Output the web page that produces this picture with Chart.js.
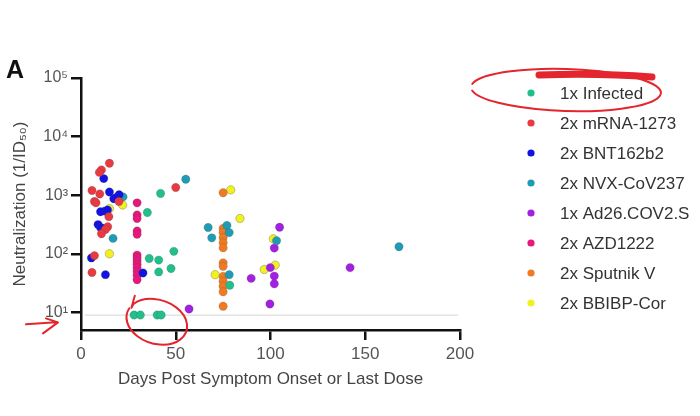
<!DOCTYPE html>
<html>
<head>
<meta charset="utf-8">
<script src="https://cdn.jsdelivr.net/npm/chart.js@4.4.1/dist/chart.umd.min.js"></script>
<style>
  html, body { margin: 0; padding: 0; background: #fff; }
  #wrap { width: 700px; height: 416px; }
</style>
</head>
<body>
<div id="wrap"><canvas id="chart" width="700" height="416"></canvas></div>
<script>
// groups, in legend order
const groupLabels = ['1x Infected', '2x mRNA-1273', '2x BNT162b2', '2x NVX-CoV237',
                     '1x Ad26.COV2.S', '2x AZD1222', '2x Sputnik V', '2x BBIBP-Cor'];
const groupColors = ['#22bf8c', '#e83a40', '#1212e2', '#1f9cb4',
                     '#a31fe2', '#e8177c', '#f07a22', '#f2f020'];

// days post onset / last dose, and neutralization titer (1/ID50)
const infectedDays   = [42, 35, 49, 36, 41, 41, 47.5, 28, 31.3, 40.2, 42.3, 78.5];
const infectedTiters = [1070, 505, 110, 83, 78, 49, 56, 9, 9, 9, 9, 29];

const mrnaDays   = [15, 10.8, 9.7, 5.8, 9.9, 7.1, 7.9, 20, 14.7, 14.1, 12.9, 10.8, 7.1, 5.8, 50];
const mrnaTiters = [3500, 2700, 2450, 1200, 1050, 780, 740, 780, 430, 290, 260, 220, 93, 48, 1350];

const bntDays   = [12, 15, 17.3, 20.1, 18.5, 12.5, 10.3, 14, 9, 10.3, 12, 5.5, 12.9, 32.7];
const bntTiters = [1920, 1135, 870, 1020, 910, 535, 520, 560, 315, 280, 270, 85, 44, 47];

const nvxDays   = [22.2, 16.9, 55.3, 67.1, 69, 77, 78.2, 78.2, 103.2, 167.8];
const nvxTiters = [935, 183, 1870, 280, 187, 305, 230, 44, 167, 132];

const adDays   = [57, 99.7, 104.8, 102, 99.9, 102, 102, 89.8, 142];
const adTiters = [11.4, 13.9, 283, 125, 58, 41.6, 30.7, 38, 58];

const azdDays   = [29.6, 29.6, 29.6, 29.6, 29.6, 29.6, 29.6, 29.6, 29.6, 29.6, 29.6, 29.6, 29.6];
const azdTiters = [740, 460, 400, 245, 215, 95, 85, 75, 66, 58, 50, 43, 36];

const sputnikDays   = [75, 75, 75, 75, 75, 75, 75, 75, 75, 75, 75, 75, 75];
const sputnikTiters = [1100, 270, 230, 188, 154, 126, 70, 61, 41, 34, 28, 22.4, 12.7];

const bbibpDays   = [22, 15, 15, 79, 83.9, 70.8, 101.5, 96.7, 102.5];
const bbibpTiters = [680, 590, 100, 1230, 400, 44, 180, 54, 64];

// limit of detection line
const lodDays = [2, 199];
const lodTiter = 9;

const xTickValues = [0, 50, 100, 150, 200];
const yTickValues = [10, 100, 1000, 10000, 100000];

const groupDays   = [infectedDays, mrnaDays, bntDays, nvxDays, adDays, azdDays, sputnikDays, bbibpDays];
const groupTiters = [infectedTiters, mrnaTiters, bntTiters, nvxTiters, adTiters, azdTiters, sputnikTiters, bbibpTiters];

const FONT = "'Liberation Sans', Arial, sans-serif";
const SUP = { '0': '⁰', '1': '¹', '2': '²', '3': '³', '4': '⁴', '5': '⁵', '6': '⁶', '7': '⁷', '8': '⁸', '9': '⁹' };

function powerLabel(v) {
    const e = Math.round(Math.log10(v));
    return '10' + String(e).split('').map(d => SUP[d]).join('');
}

const datasets = groupLabels.map((label, i) => ({
    type: 'scatter',
    label: label,
    data: groupDays[i].map((d, j) => ({ x: d, y: groupTiters[i][j] })),
    backgroundColor: groupColors[i],
    borderColor: i === 7 ? 'rgba(120,120,80,0.55)' : 'rgba(70,70,70,0.25)',
    borderWidth: 0.8,
    pointRadius: 4.2,
    pointHoverRadius: 4.2,
    order: 1
}));

datasets.push({
    type: 'line',
    label: 'LOD',
    data: lodDays.map(d => ({ x: d, y: lodTiter })),
    borderColor: '#dddddd',
    borderWidth: 1.2,
    pointRadius: 0,
    order: 99
});

// legend + panel letter, drawn on the canvas
const sideLegend = {
    id: 'sideLegend',
    afterDraw(chart) {
        const ctx = chart.ctx;
        ctx.save();
        ctx.fillStyle = '#111';
        ctx.font = 'bold 25px ' + FONT;
        ctx.textBaseline = 'alphabetic';
        ctx.fillText('A', 6, 78);

        ctx.font = '17px ' + FONT;
        ctx.textBaseline = 'middle';
        groupLabels.forEach((label, i) => {
            const yy = 93 + i * 30;
            ctx.beginPath();
            ctx.arc(531, yy, 3.6, 0, Math.PI * 2);
            ctx.fillStyle = groupColors[i];
            ctx.fill();
            ctx.fillStyle = '#333';
            ctx.fillText(label, 560, yy + 1);
        });
        ctx.restore();
    }
};

// the red hand-drawn marks on top of the figure
const redInk = {
    id: 'redInk',
    afterDraw(chart) {
        const { ctx, chartArea, scales } = chart;
        const x = scales.x, y = scales.y;
        ctx.save();
        ctx.strokeStyle = '#e4252d';
        ctx.lineCap = 'round';
        ctx.lineJoin = 'round';

        // loop around the infected points sitting at the detection limit
        ctx.lineWidth = 2;
        const cx = x.getPixelForValue(40), cy = y.getPixelForValue(6.9);
        const a0 = Math.PI * 1.12;
        ctx.beginPath();
        ctx.moveTo(cx - 22, cy - 26);
        ctx.lineTo(cx - 27 * Math.cos(0.35) + 0, cy - 14);
        ctx.ellipse(cx, cy, 31, 22, 0.3, a0 + 0.1, a0 + Math.PI * 1.95);
        ctx.stroke();

        // arrow pointing at the axis
        const tipX = chartArea.left - 23, tipY = y.getPixelForValue(10) + 10;
        ctx.beginPath();
        ctx.moveTo(tipX - 32, tipY + 2);
        ctx.lineTo(tipX - 2, tipY);
        ctx.moveTo(tipX - 12, tipY - 4);
        ctx.lineTo(tipX, tipY);
        ctx.lineTo(tipX - 15, tipY + 11);
        ctx.stroke();

        // loop around the first legend entry
        ctx.beginPath();
        ctx.ellipse(566, 90, 95, 21, 0.03, Math.PI * 1.05, Math.PI * 2.95);
        ctx.stroke();
        ctx.lineWidth = 7;
        ctx.beginPath();
        ctx.moveTo(539, 75);
        ctx.quadraticCurveTo(600, 73, 652, 77);
        ctx.stroke();
        ctx.restore();
    }
};

new Chart(document.getElementById('chart').getContext('2d'), {
    data: { datasets: datasets },
    options: {
        responsive: false,
        animation: false,
        devicePixelRatio: 1,
        layout: { padding: { top: 78, right: 240, bottom: 0, left: 0 } },
        plugins: {
            legend: { display: false },
            tooltip: { enabled: false }
        },
        scales: {
            x: {
                type: 'linear',
                min: 0,
                max: 200,
                afterBuildTicks: axis => { axis.ticks = xTickValues.map(v => ({ value: v })); },
                afterFit: axis => { axis.height = 86; },
                border: { display: true, color: '#111', width: 2.5 },
                grid: { drawOnChartArea: false, drawTicks: true, tickLength: 10, color: '#111', lineWidth: 2.5 },
                ticks: { color: '#555', font: { family: FONT, size: 17 }, padding: 4, maxRotation: 0 },
                title: {
                    display: true,
                    text: 'Days Post Symptom Onset or Last Dose',
                    color: '#444',
                    font: { family: FONT, size: 17 },
                    padding: { top: 0, bottom: 26 }
                }
            },
            y: {
                type: 'logarithmic',
                min: 5,
                max: 100000,
                afterBuildTicks: axis => { axis.ticks = yTickValues.map(v => ({ value: v })); },
                afterFit: axis => { axis.width = 81; },
                border: { display: true, color: '#111', width: 2.5 },
                grid: { drawOnChartArea: false, drawTicks: true, tickLength: 10, color: '#111', lineWidth: 2.5 },
                ticks: {
                    color: '#555',
                    font: { family: FONT, size: 16 },
                    padding: 3,
                    autoSkip: false,
                    callback: v => powerLabel(v)
                },
                title: {
                    display: true,
                    text: 'Neutralization (1/ID₅₀)',
                    color: '#444',
                    font: { family: FONT, size: 17 },
                    padding: { top: 10, bottom: 0 }
                }
            }
        }
    },
    plugins: [sideLegend, redInk]
});
</script>
</body>
</html>
